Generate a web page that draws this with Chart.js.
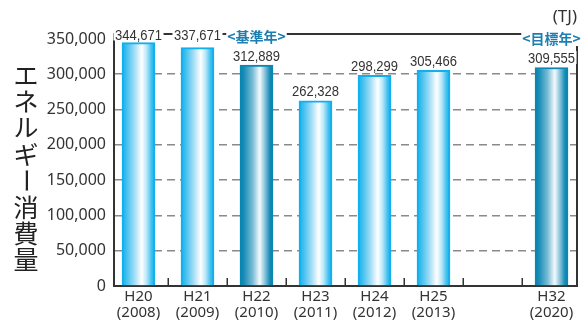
<!DOCTYPE html>
<html>
<head>
<meta charset="utf-8">
<script src="https://cdn.jsdelivr.net/npm/chart.js@4/dist/chart.umd.min.js"></script>
<style>
html,body{margin:0;padding:0;background:#fff;}
#wrap{width:585px;height:322px;position:relative;}
</style>
</head>
<body>
<div id="wrap"><canvas id="c"></canvas></div>
<script>
// ---- data ----
const categories = ['H20', 'H21', 'H22', 'H23', 'H24', 'H25', '', 'H32'];
const years = ['(2008)', '(2009)', '(2010)', '(2011)', '(2012)', '(2013)', '', '(2020)'];
const values = [344671, 337671, 312889, 262328, 298299, 305466, null, 309555];
const highlighted = [false, false, true, false, false, false, false, true];
const notes = ['', '', '<基準年>', '', '', '', '', '<目標年>'];
const yTicks = [0, 50000, 100000, 150000, 200000, 250000, 300000, 350000];
const yTitle = 'エネルギー消費量';
const unitLabel = '(TJ)';

const DARK = '#333333';

function barFill(ctx) {
  const chart = ctx.chart;
  const xs = chart.scales && chart.scales.x;
  const hi = highlighted[ctx.dataIndex];
  const fallback = hi ? '#0583ae' : '#14b1ea';
  if (!xs || ctx.type !== 'data') return fallback;
  const cx = xs.getPixelForValue(ctx.dataIndex);
  if (!isFinite(cx)) return fallback;
  const g = chart.ctx.createLinearGradient(cx - 16.5, 0, cx + 16.5, 0);
  if (hi) {
    g.addColorStop(0, '#0480ab');
    g.addColorStop(0.12, '#1a8db7');
    g.addColorStop(0.38, '#78bbd5');
    g.addColorStop(0.6, '#f4fafc');
    g.addColorStop(0.75, '#8ac5dc');
    g.addColorStop(0.9, '#1b8db6');
    g.addColorStop(1, '#0480ab');
  } else {
    g.addColorStop(0, '#12b0ea');
    g.addColorStop(0.12, '#3bbdee');
    g.addColorStop(0.38, '#a2ddf6');
    g.addColorStop(0.6, '#ffffff');
    g.addColorStop(0.75, '#b5e6f9');
    g.addColorStop(0.9, '#3dbfee');
    g.addColorStop(1, '#12b0ea');
  }
  return g;
}

const framePlugin = {
  id: 'frame',
  beforeDatasetsDraw(chart) {
    const {ctx, chartArea: a} = chart;
    const xs = chart.scales.x;
    ctx.save();
    ctx.strokeStyle = DARK;
    ctx.lineWidth = 2;
    ctx.beginPath();
    ctx.moveTo(a.left - 1, a.top);
    ctx.lineTo(a.right, a.top);
    ctx.lineTo(a.right, a.bottom);
    ctx.stroke();
    // inner tick marks at category boundaries
    ctx.lineWidth = 1.5;
    for (let i = 0; i < categories.length - 1; i++) {
      const px = Math.round(xs.getPixelForValue(i + 0.5)) + 0.25;
      ctx.beginPath();
      ctx.moveTo(px, a.bottom);
      ctx.lineTo(px, a.bottom - 8);
      ctx.stroke();
    }
    ctx.restore();
  },
  afterDatasetsDraw(chart) {
    const {ctx, chartArea: a} = chart;
    const meta = chart.getDatasetMeta(0);
    ctx.save();
    ctx.textAlign = 'center';
    ctx.textBaseline = 'alphabetic';
    const sx = 0.84;
    meta.data.forEach((el, i) => {
      if (values[i] == null) return;
      const txt = values[i].toLocaleString('en-US');
      const y = (el.y - 4 < a.top + 18) ? a.top + 5.5 : el.y - 4.5;
      ctx.font = '15.5px "Liberation Sans Narrow", "Liberation Sans", sans-serif';
      const w = ctx.measureText(txt).width * sx;
      ctx.fillStyle = '#fff';
      ctx.fillRect(el.x - w / 2 - 1.5, y - 12, w + 3, 13);
      ctx.save();
      ctx.translate(el.x, y);
      ctx.scale(sx, 1);
      ctx.fillStyle = DARK;
      ctx.fillText(txt, 0, 0);
      ctx.restore();
      if (notes[i]) {
        ctx.font = 'bold 14px "Noto Sans CJK JP", sans-serif';
        const nw = ctx.measureText(notes[i]).width;
        const ny = a.top + 3 + (i === 7 ? 2 : 0);
        ctx.fillStyle = '#fff';
        ctx.fillRect(el.x - nw / 2 - 1, ny - 8, nw + 2, 15);
        ctx.fillStyle = '#1c7fb2';
        ctx.textBaseline = 'middle';
        ctx.fillText(notes[i], el.x, ny);
        ctx.textBaseline = 'alphabetic';
      }
    });
    ctx.restore();
  },
  afterDraw(chart) {
    const {ctx} = chart;
    ctx.save();
    ctx.fillStyle = '#222';
    ctx.textAlign = 'center';
    ctx.textBaseline = 'middle';
    ctx.font = '25px "Noto Sans CJK JP", sans-serif';
    const chars = Array.from(yTitle);
    chars.forEach((ch, k) => {
      const cy = 75 + k * 26.4;
      if (ch === 'ー') {
        ctx.save();
        ctx.translate(26, cy);
        ctx.rotate(Math.PI / 2);
        ctx.fillText(ch, 0, 0);
        ctx.restore();
      } else {
        ctx.fillText(ch, 26, cy);
      }
    });
    ctx.font = '17px "Noto Sans", sans-serif';
    ctx.textAlign = 'right';
    ctx.fillStyle = DARK;
    ctx.fillText(unitLabel, 577, 17);
    ctx.restore();
  }
};

new Chart(document.getElementById('c'), {
  type: 'bar',
  data: {
    datasets: [{
      data: values.map((v, i) => ({x: i, y: v})),
      backgroundColor: barFill,
      borderColor: (ctx) => highlighted[ctx.dataIndex] ? '#0a86b2' : '#10b0ee',
      borderWidth: 2,
      borderSkipped: 'bottom',
      barThickness: 33
    }]
  },
  options: {
    responsive: true,
    maintainAspectRatio: false,
    animation: false,
    events: [],
    layout: {padding: {top: 34, right: 8, left: 0, bottom: 0}},
    plugins: {legend: {display: false}, tooltip: {enabled: false}, title: {display: false}},
    scales: {
      x: {
        type: 'linear',
        offset: false,
        min: -0.415,
        max: 7.432,
        afterBuildTicks: (s) => { s.ticks = categories.map((c, i) => ({value: i})); },
        afterFit: (s) => { s.height = 36; },
        grid: {display: false, drawTicks: false, offset: false},
        border: {display: true, color: DARK, width: 2},
        ticks: {
          autoSkip: false,
          maxRotation: 0,
          padding: 3,
          color: DARK,
          font: {family: '"Noto Sans", sans-serif', size: 15, lineHeight: 1.07},
          callback: (v) => categories[v] ? [categories[v], years[v]] : ''
        }
      },
      y: {
        min: 0,
        max: 357000,
        afterBuildTicks: (s) => { s.ticks = yTicks.map(v => ({value: v})); },
        afterFit: (s) => { s.width = 114; },
        grid: {
          drawTicks: false,
          lineWidth: 1.5,
          color: (c) => (c.tick && (c.tick.value === 0 || c.tick.value === 350000)) ? 'rgba(0,0,0,0)' : '#8a8a8a'
        },
        border: {display: true, color: DARK, width: 2, dash: [8, 5]},
        ticks: {
          padding: 8,
          color: DARK,
          font: {family: '"Noto Sans", sans-serif', size: 16},
          callback: (v) => v.toLocaleString('en-US')
        }
      }
    }
  },
  plugins: [framePlugin]
});
</script>
</body>
</html>
